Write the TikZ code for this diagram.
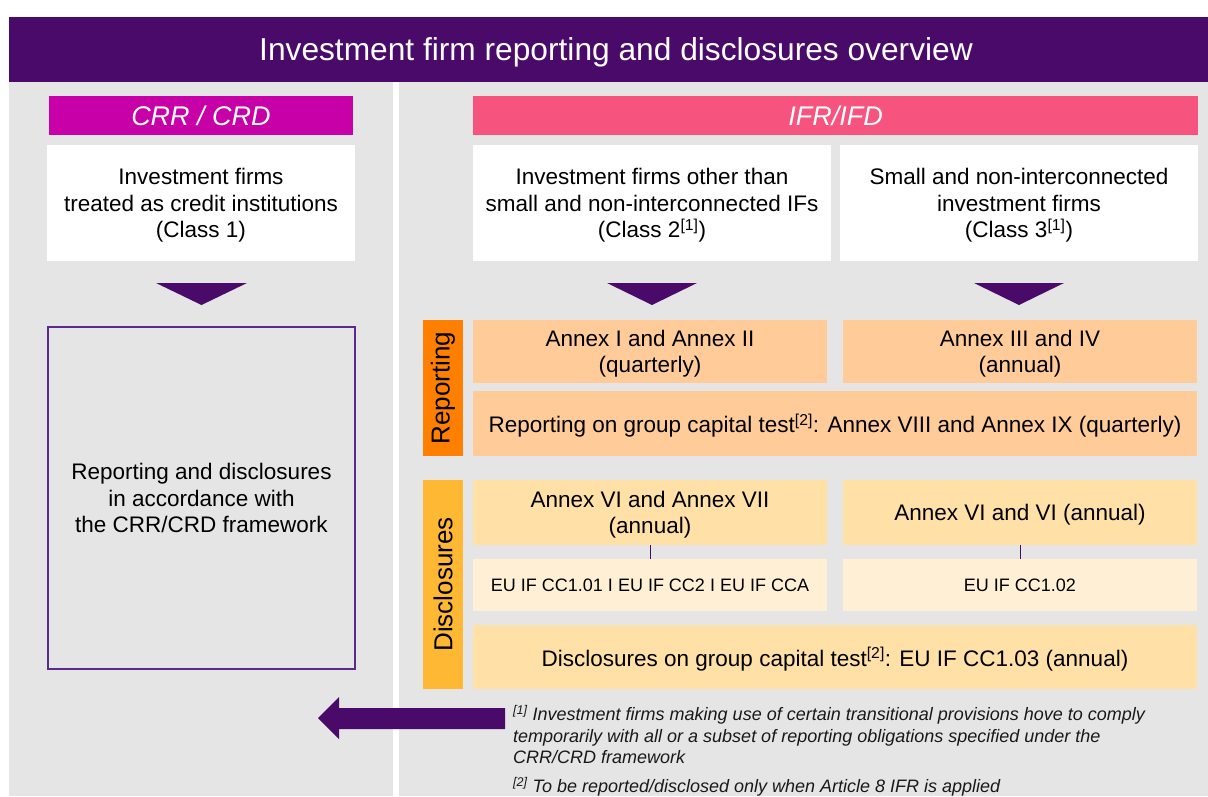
\documentclass[tikz,border=0pt]{standalone}
\usepackage{fontspec}
\setmainfont{Liberation Sans}
\definecolor{tpurple}{HTML}{4A0A6A}
\definecolor{pgray}{HTML}{E5E5E5}
\definecolor{crrmag}{HTML}{C800A8}
\definecolor{ifrpink}{HTML}{F7537F}
\definecolor{reporange}{HTML}{FF8000}
\definecolor{repfill}{HTML}{FFCC99}
\definecolor{disorange}{HTML}{FFB833}
\definecolor{disfill}{HTML}{FFE1A8}
\definecolor{dislight}{HTML}{FFF0D5}
\definecolor{bordpurple}{HTML}{5B2A8C}
\begin{document}
\begin{tikzpicture}[x=1pt,y=-1pt,
  blk/.style={rectangle, inner sep=0pt, outer sep=0pt, align=center, text=black,
    text depth=0pt, font=\fontsize{22.5}{26.5}\selectfont},
  hdr/.style={rectangle, inner sep=0pt, outer sep=0pt, text=white,
    font=\fontsize{27}{30}\selectfont\itshape},
  vlabel/.style={rectangle, inner sep=0pt, outer sep=0pt, rotate=90, text=black,
    font=\fontsize{26}{30}\selectfont},
  small/.style={font=\fontsize{18}{21}\selectfont},
  link/.style={draw=tpurple, line width=0.9pt},
  foot/.style={anchor=north west, align=left, inner sep=0pt, text=black!90,
    font=\fontsize{18}{21.5}\selectfont\itshape}
]
\useasboundingbox (0,0) rectangle (1208,796);
\fill[white] (0,0) rectangle (1208,796);
% panels
\fill[pgray] (9,82) rectangle (393,796);
\fill[pgray] (399,82) rectangle (1208,796);
% title
\node[rectangle, fill=tpurple, inner sep=0pt, minimum width=1199pt, minimum height=65pt] (titlebar) at (608.5,49.5) {};
\node[inner sep=0pt, text=white, font=\fontsize{31.7}{36}\selectfont] (titletext) at (616,52.5) {Investment firm reporting and disclosures overview};
% headers
\node[hdr, fill=crrmag, minimum width=304pt, minimum height=39pt] (crr) at (201,115.5) {CRR / CRD};
\node[hdr, fill=ifrpink, minimum width=725pt, minimum height=39pt] (ifr) at (835.5,115.5) {IFR/IFD};
% class boxes
\node[blk, fill=white, minimum width=308pt, minimum height=116pt] (class1) at (201,203)
  {Investment firms\\treated as credit institutions\\(Class 1)};
\node[blk, fill=white, minimum width=358pt, minimum height=116pt] (class2) at (652,203)
  {Investment firms other than\\small and non-interconnected IFs\\(Class 2\textsuperscript{[1]})};
\node[blk, fill=white, minimum width=358pt, minimum height=116pt] (class3) at (1019,203)
  {Small and non-interconnected\\investment firms\\(Class 3\textsuperscript{[1]})};
% triangles
\fill[tpurple] (156,283) -- (247,283) -- (201.5,305) -- cycle;
\fill[tpurple] (607,283) -- (697,283) -- (652,305) -- cycle;
\fill[tpurple] (974,283) -- (1064,283) -- (1019,305) -- cycle;
% CRR outcome box
\node[blk, draw=bordpurple, line width=1.6pt, minimum width=307pt, minimum height=342pt] (crrbox) at (201.5,498)
  {Reporting and disclosures\\in accordance with\\the CRR/CRD framework};
% Reporting block
\node[vlabel, fill=reporange, minimum width=136pt, minimum height=40pt] (replabel) at (443,388) {Reporting};
\node[blk, fill=repfill, minimum width=354pt, minimum height=63pt] (annex12) at (650,351.5)
  {Annex I and Annex II\\(quarterly)};
\node[blk, fill=repfill, minimum width=354pt, minimum height=63pt] (annex34) at (1020,351.5)
  {Annex III and IV\\(annual)};
\node[blk, fill=repfill, minimum width=724pt, minimum height=65pt] (repgroup) at (835,423.5)
  {Reporting on group capital test\textsuperscript{[2]}: Annex VIII and Annex IX (quarterly)};
% Disclosures block
\node[vlabel, fill=disorange, minimum width=209pt, minimum height=40pt] (dislabel) at (443,584.5) {Disclosures};
\node[blk, fill=disfill, minimum width=354pt, minimum height=65pt] (annex67) at (650,512.5)
  {Annex VI and Annex VII\\(annual)};
\node[blk, fill=disfill, minimum width=354pt, minimum height=65pt] (annex66) at (1020,512.5)
  {Annex VI and VI (annual)};
\node[blk, small, fill=dislight, minimum width=354pt, minimum height=52pt] (eu1) at (650,585)
  {EU IF CC1.01 I EU IF CC2 I EU IF CCA};
\node[blk, small, fill=dislight, minimum width=354pt, minimum height=52pt] (eu2) at (1020,585)
  {EU IF CC1.02};
\node[blk, fill=disfill, minimum width=724pt, minimum height=64pt] (disgroup) at (835,657)
  {Disclosures on group capital test\textsuperscript{[2]}: EU IF CC1.03 (annual)};
\draw[link] (annex67.south) -- (eu1.north);
\draw[link] (annex66.south) -- (eu2.north);
% block arrow
\fill[tpurple] (318,718) -- (339,697) -- (339,708) -- (505,708) -- (505,729) -- (339,729) -- (339,739) -- cycle;
% footnotes
\node[foot] (fn1) at (513,705)
  {\textsuperscript{[1]} Investment firms making use of certain transitional provisions hove to comply\\
   temporarily with all or a subset of reporting obligations specified under the\\
   CRR/CRD framework};
\node[foot] (fn2) at (513,777)
  {\textsuperscript{[2]} To be reported/disclosed only when Article 8 IFR is applied};
\end{tikzpicture}
\end{document}
